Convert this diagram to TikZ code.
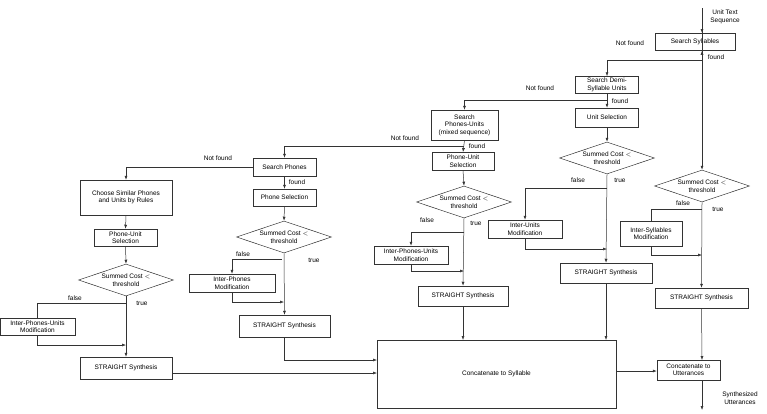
\documentclass[tikz,border=0pt]{standalone}
\usepackage{fontspec}
\setmainfont{Liberation Sans}
\usetikzlibrary{shapes.geometric,arrows.meta}
\begin{document}
\begin{tikzpicture}[x=1pt,y=-1pt,
  every node/.style={font=\fontsize{6.5}{7.5}\selectfont,inner sep=0pt,align=center},
  box/.style={draw=black!80,line width=0.5pt},
  dia/.style={draw=black!80,line width=0.5pt,diamond,aspect=3,minimum width=95pt,minimum height=32pt},
  ln/.style={draw=black!80,line width=0.5pt},
  ar/.style={ln,-{Latex[length=4pt,width=3pt]}},
  lab/.style={font=\fontsize{6.5}{7.5}\selectfont}]
\useasboundingbox (0,0) rectangle (767,413);
% boxes: node at center with minimum size
\newcommand{\bx}[6]{\node[box,minimum width=#4,minimum height=#5] (#1) at (#2,#3) {#6};}
\bx{ss}{695}{42}{80pt}{17pt}{Search Syllables}
\bx{sd}{607}{85}{63pt}{17pt}{Search Demi-\\Syllable Units}
\bx{us}{607}{117.5}{63pt}{19pt}{Unit Selection}
\node[dia] (d1) at (607,158) {Summed Cost $<$\\threshold};
\bx{iu}{525}{229}{74pt}{18pt}{Inter-Units\\Modification}
\bx{st1}{606}{273}{92pt}{20pt}{STRAIGHT Synthesis}
\bx{spu}{464.5}{125}{67pt}{30pt}{Search\\Phones-Units\\(mixed sequence)}
\bx{pus}{463}{161}{62pt}{18pt}{Phone-Unit\\Selection}
\node[dia] (d2) at (464,202) {Summed Cost $<$\\threshold};
\bx{ipu}{411}{255}{74pt}{18pt}{Inter-Phones-Units\\Modification}
\bx{st2}{463}{296}{90pt}{20pt}{STRAIGHT Synthesis}
\bx{sp}{284.5}{167}{63pt}{18pt}{Search Phones}
\bx{ps}{284.5}{197.5}{63pt}{17pt}{Phone Selection}
\node[dia] (d3) at (284,237) {Summed Cost $<$\\threshold};
\bx{ip}{232}{283}{86pt}{18pt}{Inter-Phones\\Modification}
\bx{st3}{284.5}{326}{91pt}{22pt}{STRAIGHT Synthesis}
\bx{cs}{126}{197.5}{92pt}{35pt}{Choose Similar Phones\\and Units by Rules}
\bx{pul}{125.5}{237.5}{63pt}{17pt}{Phone-Unit\\Selection}
\node[dia] (d4) at (126,280) {Summed Cost $<$\\threshold};
\bx{ipl}{37.5}{326.5}{75pt}{17pt}{Inter-Phones-Units\\Modification}
\bx{st4}{126}{368}{92pt}{22pt}{STRAIGHT Synthesis}
\bx{cat}{496.5}{374}{239pt}{68pt}{Concatenate to Syllable}
\bx{cu}{688.5}{370}{63pt}{20pt}{Concatenate to\\Utterances}
\node[dia] (d5) at (702,186) {Summed Cost $<$\\threshold};
\bx{is}{651}{233.5}{62pt}{25pt}{Inter-Syllables\\Modification}
\bx{st5}{701.5}{298}{93pt}{20pt}{STRAIGHT Synthesis}
% texts
\node[lab] (uts) at (725,17) {Unit Text\\Sequence};
\node[lab] (su) at (740,398) {Synthesized\\Utterances};
\coordinate (in) at (702,8);
\coordinate (out) at (702,410);
\draw[ar] (in) -- (ss.south -| in) ++(0,0);
\draw[ar] (in) -- (702,33);
\draw[ar] (702,50) -- (d5.north);
\draw[ar] (702,60) -| (sd.north);
\node[lab] at (630,43) {Not found};
\node[lab] at (716,57) {found};
\draw[ar] (sd.south) -- (us.north);
\draw[ar] (607,100) -| (spu.north);
\node[lab] at (540,88) {Not found};
\node[lab] at (620,101) {found};
\draw[ar] (us.south) -- (d1.north);
\draw[ar] (d1.south) -- (st1.north);
\draw[ar] (607,188) -| (iu.north);
\node[lab] at (578,180) {false};
\node[lab] at (620,180) {true};
\draw[ar] (iu.south) |- (607,249);
\draw[ar] (st1.south) -- (606,340);
\draw[ar] (spu.south) -- (463,152);
\draw[ar] (464,146) -| (sp.north);
\node[lab] at (405,138) {Not found};
\node[lab] at (477,146) {found};
\draw[ar] (pus.south) -- (d2.north);
\draw[ar] (d2.south) -- (st2.north);
\draw[ar] (464,232) -| (ipu.north);
\node[lab] at (427,220) {false};
\node[lab] at (476,223) {true};
\draw[ar] (ipu.south) |- (464,271);
\draw[ar] (st2.south) -- (463,340);
\draw[ar] (sp.south) -- (ps.north);
\draw[ar] (sp.west) -| (cs.north);
\node[lab] at (218,158) {Not found};
\node[lab] at (297,182) {found};
\draw[ar] (ps.south) -- (d3.north);
\draw[ar] (d3.south) -- (st3.north);
\draw[ar] (282,259) -| (ip.north);
\node[lab] at (243,254) {false};
\node[lab] at (314,260) {true};
\draw[ar] (ip.south) |- (284,302);
\draw[ar] (st3.south) |- (377,360);
\draw[ar] (cs.south) -- (pul.north);
\draw[ar] (pul.south) -- (d4.north);
\draw[ar] (d4.south) -- (st4.north);
\draw[ln] (126,303) -| (ipl.north);
\node[lab] at (75,298) {false};
\node[lab] at (142,303) {true};
\draw[ar] (ipl.south) |- (126,345);
\draw[ar] (st4.east |- 0,373) -- (377,373);
\draw[ar] (cat.east |- 0,371) -- (cu.west |- 0,371);
\draw[ar] (d5.south) -- (st5.north);
\draw[ln] (702,209) -| (is.north);
\node[lab] at (683,203) {false};
\node[lab] at (718,209) {true};
\draw[ar] (is.south) |- (702,255);
\draw[ar] (st5.south) -- (702,360);
\draw[ar] (702,380) -- (out);
\end{tikzpicture}
\end{document}
